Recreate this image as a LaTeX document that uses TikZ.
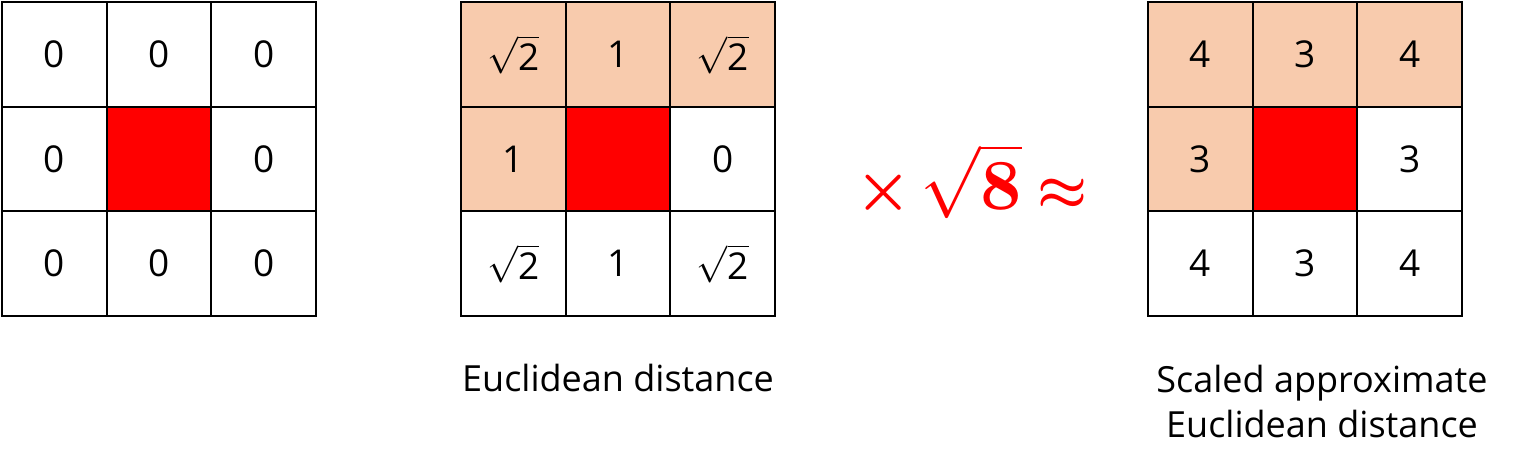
\documentclass[tikz,border=0pt]{standalone}
\usepackage{amsmath}
\usepackage{graphicx}
\usepackage[no-math]{fontspec}
\setmainfont{Open Sans}
\definecolor{peach}{HTML}{F8CBAD}
\definecolor{pred}{HTML}{FF0000}
\tikzset{
  cell/.style={draw=black, line width=2pt, minimum width=104.67pt, minimum height=104.67pt, inner sep=0pt, outer sep=0pt, anchor=center, font=\fontsize{37}{44}\selectfont},
  pk/.style={fill=peach},
  rd/.style={fill=pred},
  lbl/.style={font=\fontsize{36}{45}\selectfont, align=center},
  fml/.style={text=pred, font=\fontsize{10}{12}\selectfont, inner sep=0pt, anchor=base},
}
\newcommand{\rt}{{\fontsize{10}{12}\selectfont\scalebox{3.7}{$\sqrt{\text{2}}$}}}
\begin{document}
\begin{tikzpicture}[x=1pt,y=-1pt]
\useasboundingbox (0,0) rectangle (1525,468);
% grid 1
\node[cell] (a11) at (54.3,54.3) {0};
\node[cell] (a12) at (159,54.3) {0};
\node[cell] (a13) at (263.7,54.3) {0};
\node[cell] (a21) at (54.3,159) {0};
\node[cell,rd] (a22) at (159,159) {};
\node[cell] (a23) at (263.7,159) {0};
\node[cell] (a31) at (54.3,263.7) {0};
\node[cell] (a32) at (159,263.7) {0};
\node[cell] (a33) at (263.7,263.7) {0};
% grid 2
\node[cell,pk] (b11) at (513.3,54.3) {\rt};
\node[cell,pk] (b12) at (618,54.3) {1};
\node[cell,pk] (b13) at (722.7,54.3) {\rt};
\node[cell,pk] (b21) at (513.3,159) {1};
\node[cell,rd] (b22) at (618,159) {};
\node[cell] (b23) at (722.7,159) {0};
\node[cell] (b31) at (513.3,263.7) {\rt};
\node[cell] (b32) at (618,263.7) {1};
\node[cell] (b33) at (722.7,263.7) {\rt};
% grid 3
\node[cell,pk] (c11) at (1200.3,54.3) {4};
\node[cell,pk] (c12) at (1305,54.3) {3};
\node[cell,pk] (c13) at (1409.7,54.3) {4};
\node[cell,pk] (c21) at (1200.3,159) {3};
\node[cell,rd] (c22) at (1305,159) {};
\node[cell] (c23) at (1409.7,159) {3};
\node[cell] (c31) at (1200.3,263.7) {4};
\node[cell] (c32) at (1305,263.7) {3};
\node[cell] (c33) at (1409.7,263.7) {4};
% formula
\node[fml] (fx) at (884,208) {\scalebox{6.3}{$\boldsymbol{\times}$}};
\node[fml] (fsq) at (971,209) {\scalebox{7.2}{$\sqrt{\mathbf{8}}$}};
\node[fml] (fap) at (1063,208) {\scalebox{5.6}{$\boldsymbol{\approx}$}};
% labels
\node[lbl] (l2) at (618,378) {Euclidean distance};
\node[lbl] (l3) at (1322,401) {Scaled approximate\\Euclidean distance};
\end{tikzpicture}
\end{document}
